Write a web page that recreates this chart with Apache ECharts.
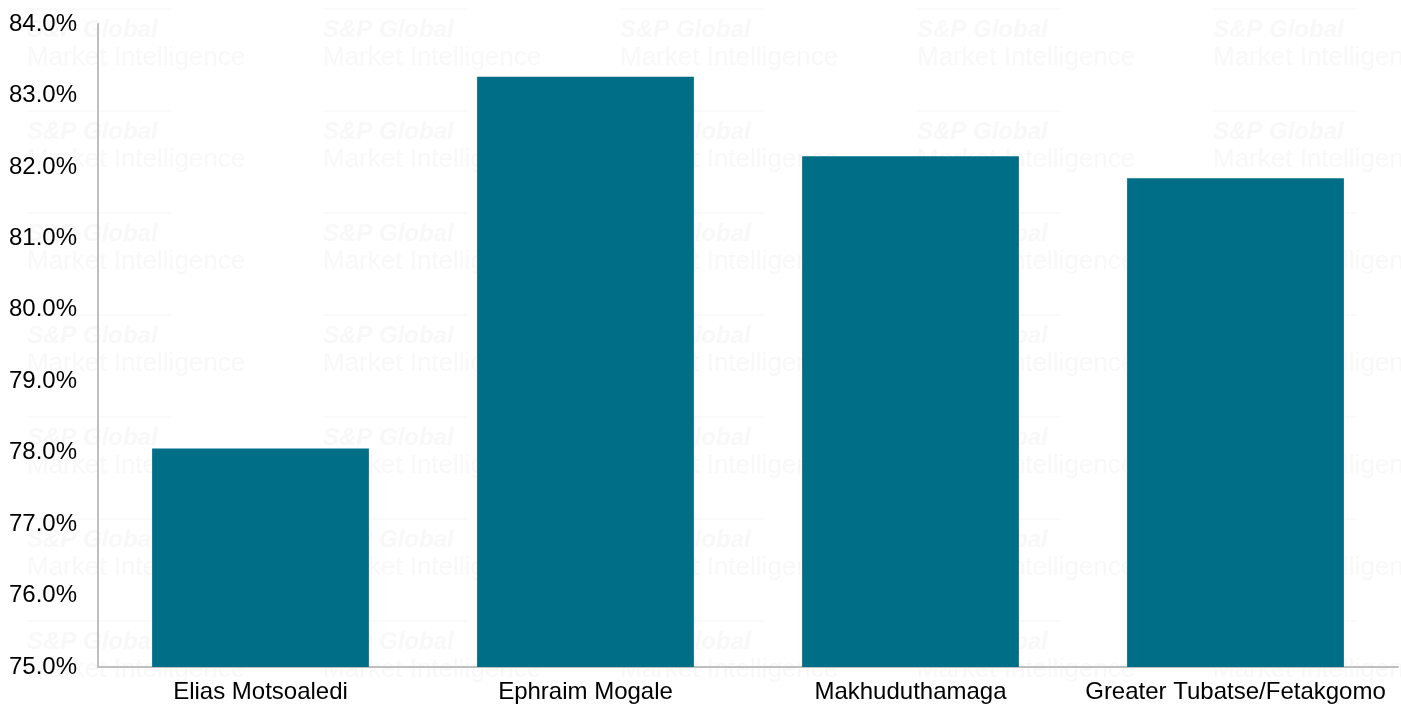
<!DOCTYPE html>
<html>
<head>
<meta charset="utf-8">
<script src="https://cdn.jsdelivr.net/npm/echarts@6/dist/echarts.min.js"></script>
<style>
html,body{margin:0;padding:0;background:#fff;}
#chart{width:1401px;height:709px;}
</style>
</head>
<body>
<div id="chart"></div>
<script>
const categories = ["Elias Motsoaledi", "Ephraim Mogale", "Makhuduthamaga", "Greater Tubatse/Fetakgomo"];
const values = [78.06, 83.26, 82.15, 81.84];
const yTicks = [75, 76, 77, 78, 79, 80, 81, 82, 83, 84];

const chart = echarts.init(document.getElementById('chart'), null, {renderer: 'canvas'});

// faint watermark tiles
const wm = [];
const wmX = [27, 323, 620, 917, 1213];
const wmY = [18, 120, 222, 324, 426, 528, 630];
wmX.forEach(x => wmY.forEach(y => {
  wm.push({type: 'rect', silent: true, z: -1, shape: {x: x, y: y - 10, width: 144, height: 2}, style: {fill: '#fafafa'}});
  wm.push({type: 'text', silent: true, z: -1, x: x, y: y, style: {text: 'S&P Global', fill: '#f8f8f8', font: 'italic bold 24px "Liberation Sans", Arial'}});
  wm.push({type: 'text', silent: true, z: -1, x: x, y: y + 27, style: {text: 'Market Intelligence', fill: '#f8f8f8', font: '26px "Liberation Sans", Arial'}});
}));

chart.setOption({
  animation: false,
  backgroundColor: '#ffffff',
  graphic: wm,
  grid: {left: 98, right: 3, top: 24, bottom: 42, containLabel: false},
  xAxis: {
    type: 'category',
    data: categories,
    axisLine: {lineStyle: {color: '#bfbfbf', width: 2}},
    axisTick: {show: false},
    axisLabel: {interval: 0, color: '#000', fontSize: 24, fontFamily: '"Liberation Sans", Arial', margin: 13}
  },
  yAxis: {
    type: 'value',
    min: yTicks[0],
    max: yTicks[yTicks.length - 1],
    interval: 1,
    axisLine: {show: true, lineStyle: {color: '#bfbfbf', width: 2}},
    axisTick: {show: false},
    splitLine: {show: false},
    axisLabel: {color: '#000', fontSize: 24, fontFamily: '"Liberation Sans", Arial', margin: 21,
      padding: [4, 0, 0, 0],
      formatter: v => v.toFixed(1) + '%'}
  },
  series: [{
    type: 'bar',
    data: values,
    barCategoryGap: '33.3%',
    itemStyle: {color: '#016e88'}
  }]
});
</script>
</body>
</html>
